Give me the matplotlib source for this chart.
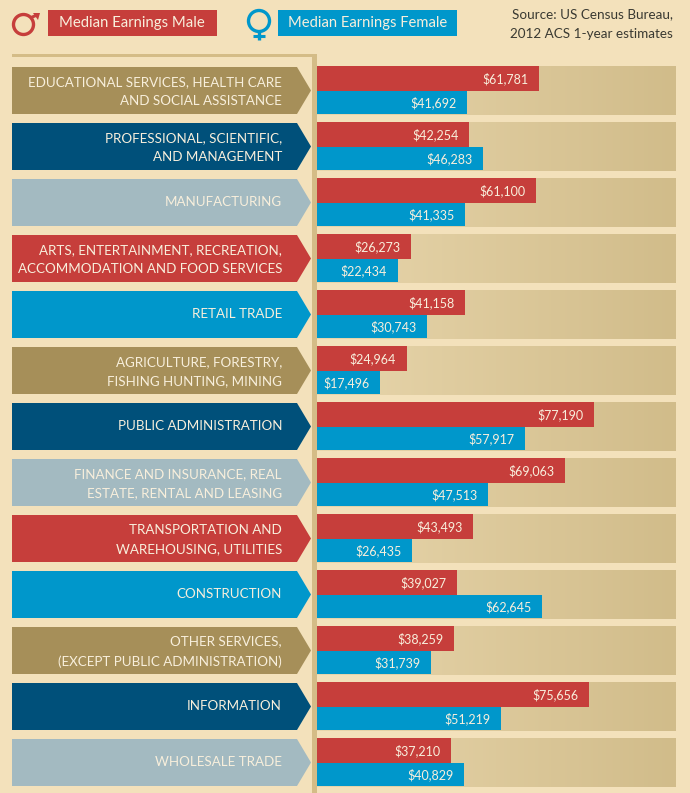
import numpy as np
from matplotlib import pyplot as plt
from matplotlib.colors import LinearSegmentedColormap
from matplotlib.patches import Circle, Polygon, Rectangle

categories = [
    "EDUCATIONAL SERVICES, HEALTH CARE\nAND SOCIAL ASSISTANCE",
    "PROFESSIONAL, SCIENTIFIC,\nAND MANAGEMENT",
    "MANUFACTURING",
    "ARTS, ENTERTAINMENT, RECREATION,\nACCOMMODATION AND FOOD SERVICES",
    "RETAIL TRADE",
    "AGRICULTURE, FORESTRY,\nFISHING HUNTING, MINING",
    "PUBLIC ADMINISTRATION",
    "FINANCE AND INSURANCE, REAL\nESTATE, RENTAL AND LEASING",
    "TRANSPORTATION AND\nWAREHOUSING, UTILITIES",
    "CONSTRUCTION",
    "OTHER SERVICES,\n(EXCEPT PUBLIC ADMINISTRATION)",
    "INFORMATION",
    "WHOLESALE TRADE",
]
male = [61781, 42254, 61100, 26273, 41158, 24964, 77190, 69063, 43493, 39027, 38259, 75656, 37210]
female = [41692, 46283, 41335, 22434, 30743, 17496, 57917, 47513, 26435, 62645, 31739, 51219, 40829]

RED = "#C63E3B"
BLUE = "#0097CB"
TAN = "#A68F59"
NAVY = "#00507A"
PALE = "#A3BAC1"
BG = "#F3E1BB"
RULE = "#D4BC87"
WHITE = "#F8EFDC"
arrow_colors = [TAN, NAVY, PALE, RED, BLUE]

plt.rcParams['font.family'] = ['Lato', 'DejaVu Sans']

fig = plt.figure(figsize=(6.9, 7.93), dpi=100, facecolor=BG)

# overlay in pixel coords for the decoration
deco = fig.add_axes([0, 0, 1, 1])
deco.set_xlim(0, 690)
deco.set_ylim(793, 0)
deco.axis("off")

# frame rule
deco.add_patch(Rectangle((12, 54), 304, 3, color=RULE, lw=0))
deco.add_patch(Rectangle((312, 54), 4.5, 739, color=RULE, lw=0))

# legend
deco.add_patch(Rectangle((48, 10), 169, 26, color=RED, lw=0))
deco.text(132, 23, "Median Earnings Male", color=WHITE, fontsize=10.7, ha="center", va="center")
deco.add_patch(Rectangle((278, 10), 179, 26, color=BLUE, lw=0))
deco.text(368, 23, "Median Earnings Female", color=WHITE, fontsize=10.6, ha="center", va="center")

# male sign
deco.add_patch(Circle((23.5, 24.5), 10, fill=False, ec=RED, lw=2.4))
deco.plot([30, 37], [18, 15], color=RED, lw=2.2, solid_capstyle="butt")
deco.add_patch(Polygon([[33, 13], [40, 13], [38, 20]], color=RED, lw=0))

# female sign
deco.add_patch(Circle((259, 21), 10.5, fill=False, ec=BLUE, lw=2.4))
deco.plot([259, 259], [31, 40], color=BLUE, lw=2.4, solid_capstyle="butt")
deco.plot([253, 265], [35.5, 35.5], color=BLUE, lw=2.2, solid_capstyle="butt")

deco.text(673, 14, "Source: US Census Bureau,", color="#3A3A32", fontsize=9.7, ha="right", va="center")
deco.text(673, 34, "2012 ACS 1-year estimates", color="#3A3A32", fontsize=9.7, ha="right", va="center")

# arrows
for i, name in enumerate(categories):
    top = 67 + 56 * i
    bot = top + 47
    deco.add_patch(Polygon([[12, top], [297, top], [311, (top + bot) / 2], [297, bot], [12, bot]],
                           color=arrow_colors[i % 5], lw=0))
    # single lines sit a bit higher than two line labels
    shift = 1 if "\n" in name else -1
    deco.text(282, (top + bot) / 2 + shift, name, color=WHITE, fontsize=9.6, ha="right", va="center",
              linespacing=1.75, multialignment="right")

# bars, x axis is dollars, y axis is rows
ax = fig.add_axes([317 / 690, (793 - 794) / 793, 359 / 690, 728 / 793])
ax.patch.set_alpha(0)
ax.axis("off")

cmap = LinearSegmentedColormap.from_list("panel", ["#E8D6AC", "#D1BC8A"])
grad = np.linspace(0, 1, 256).reshape(1, -1)
for i in range(len(categories)):
    ax.imshow(grad, cmap=cmap, extent=(0, 100000, i + 0.875, i), aspect="auto", zorder=1)
ax.set_xlim(0, 100000)
ax.set_ylim(13, 0)

rows = np.arange(len(categories))
ax.barh(rows, male, height=0.44, align="edge", color=RED, zorder=2)
ax.barh(rows + 0.44, female, height=0.42, align="edge", color=BLUE, zorder=2)

for i in rows:
    ax.annotate(f"${male[i]:,}", (male[i], i + 0.23), xytext=(-7.5, 0), textcoords="offset points",
                color=WHITE, fontsize=9, ha="right", va="center", zorder=3)
    ax.annotate(f"${female[i]:,}", (female[i], i + 0.65), xytext=(-7.5, 0), textcoords="offset points",
                color=WHITE, fontsize=9, ha="right", va="center", zorder=3)

fig.savefig("out.png", dpi=100, facecolor=BG)
